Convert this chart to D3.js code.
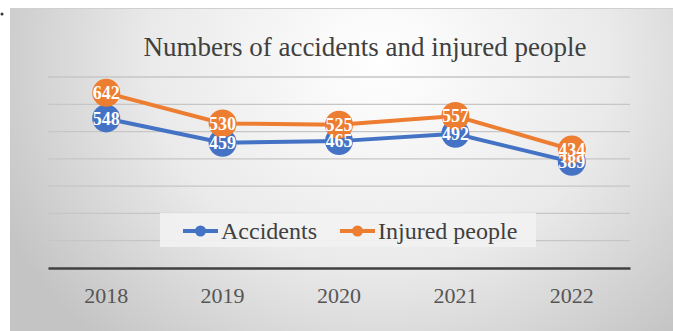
<!DOCTYPE html>
<html lang="en">
<head>
  <meta charset="UTF-8">
  <title>Accidents and injured people</title>
  <script src="https://d3js.org/d3.v7.min.js"></script>
  <style>
    body { margin: 0; background: #fff; }
  </style>
</head>
<body>
  <svg id="chart" width="673" height="331"></svg>
  <script>
    const years = ["2018", "2019", "2020", "2021", "2022"];
    const accidents = [548, 459, 465, 492, 389];
    const injured = [642, 530, 525, 557, 434];
    const yTicks = [0, 100, 200, 300, 400, 500, 600, 700];

    const series = [
      {name: "Accidents", values: accidents, color: "#4472C4"},
      {name: "Injured people", values: injured, color: "#ED7D31"}
    ];

    const serif = "Liberation Serif";
    const svg = d3.select("#chart");

    // background panel with soft radial shading
    const defs = svg.append("defs");
    const grad = defs.append("radialGradient")
      .attr("id", "bg")
      .attr("gradientUnits", "userSpaceOnUse")
      .attr("cx", 380).attr("cy", 60).attr("r", 420)
      .attr("gradientTransform", "translate(380,60) scale(1,0.9) translate(-380,-60)");
    grad.append("stop").attr("offset", "0%").attr("stop-color", "#ffffff");
    grad.append("stop").attr("offset", "55%").attr("stop-color", "#eaeaea");
    grad.append("stop").attr("offset", "100%").attr("stop-color", "#c4c4c4");

    svg.append("circle").attr("cx", 2).attr("cy", 14).attr("r", 1.5).attr("fill", "#333");

    svg.append("rect")
      .attr("x", 10).attr("y", 8)
      .attr("width", 663).attr("height", 323)
      .attr("fill", "url(#bg)");
    svg.append("line")
      .attr("x1", 10).attr("x2", 673).attr("y1", 8.5).attr("y2", 8.5)
      .attr("stroke", "#d0d0d0");

    const x = d3.scaleBand().domain(years).range([48, 630]);
    const y = d3.scaleLinear().domain([0, 700]).range([268, 77]);

    // gridlines
    svg.append("g")
      .selectAll("line")
      .data(yTicks.slice(1))
      .join("line")
      .attr("x1", 48).attr("x2", 630)
      .attr("y1", d => y(d)).attr("y2", d => y(d))
      .attr("stroke", "#c6c6c6")
      .attr("stroke-width", 1.3);

    // x axis
    const xAxis = svg.append("g")
      .attr("transform", `translate(0,${y(0)})`)
      .call(d3.axisBottom(x).tickSize(0).tickPadding(19));
    xAxis.select(".domain").attr("stroke", "#404040").attr("stroke-width", 2.5);
    xAxis.selectAll("text")
      .attr("fill", "#555")
      .attr("font-family", serif)
      .attr("font-size", 22);

    // legend box
    const legend = svg.append("g");
    legend.append("rect")
      .attr("x", 160).attr("y", 213).attr("width", 376).attr("height", 34)
      .attr("fill", "#f2f2f2").attr("opacity", 0.9);

    const legendItems = [{s: series[0], x0: 183}, {s: series[1], x0: 340}];
    legendItems.forEach(it => {
      const g = legend.append("g");
      g.append("line")
        .attr("x1", it.x0).attr("x2", it.x0 + 35)
        .attr("y1", 231).attr("y2", 231)
        .attr("stroke", it.s.color).attr("stroke-width", 4);
      g.append("circle")
        .attr("cx", it.x0 + 17.5).attr("cy", 231).attr("r", 5.5)
        .attr("fill", it.s.color);
      g.append("text")
        .attr("x", it.x0 + 38).attr("y", 239)
        .attr("fill", "#404040")
        .attr("font-family", serif)
        .attr("font-size", 24)
        .text(it.s.name);
    });

    const line = d3.line()
      .x((d, i) => x(years[i]) + x.bandwidth() / 2)
      .y(d => y(d));

    series.forEach(s => {
      svg.append("path")
        .attr("d", line(s.values))
        .attr("fill", "none")
        .attr("stroke", s.color)
        .attr("stroke-width", 4);
    });

    series.forEach(s => {
      svg.append("g")
        .selectAll("circle")
        .data(s.values)
        .join("circle")
        .attr("cx", (d, i) => x(years[i]) + x.bandwidth() / 2)
        .attr("cy", d => y(d))
        .attr("r", 14)
        .attr("fill", s.color);
    });

    series.forEach(s => {
      svg.append("g")
        .selectAll("text")
        .data(s.values)
        .join("text")
        .attr("x", (d, i) => x(years[i]) + x.bandwidth() / 2)
        .attr("y", d => y(d))
        .attr("dy", "0.35em")
        .attr("text-anchor", "middle")
        .attr("fill", "#fff")
        .attr("font-family", serif)
        .attr("font-size", 18)
        .attr("font-weight", "bold")
        .text(d => d);
    });

    // title
    svg.append("text")
      .attr("x", 365).attr("y", 56)
      .attr("text-anchor", "middle")
      .attr("fill", "#404040")
      .attr("font-family", serif)
      .attr("font-size", 27)
      .text("Numbers of accidents and injured people");
  </script>
</body>
</html>
